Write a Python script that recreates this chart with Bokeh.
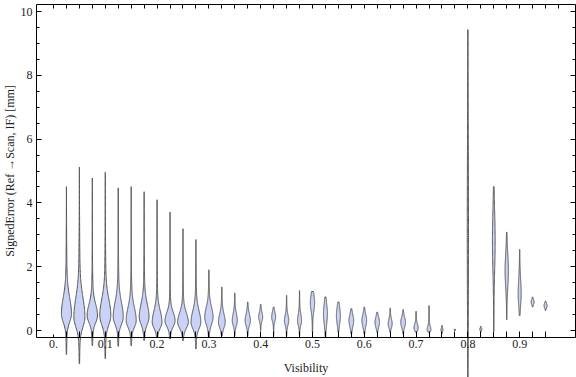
import numpy as np
from bokeh.plotting import figure
from bokeh.models import LinearAxis, FixedTicker, Label, Range1d
from bokeh.embed import file_html
from bokeh.resources import INLINE

# ---- data ----
visibility = [0.025 * k for k in range(1, 39)]
err_max = [4.51, 5.12, 4.78, 4.96, 4.47, 4.51, 4.35, 4.10, 3.71, 3.19,
           2.85, 1.90, 1.36, 1.17, 0.89, 0.82, 0.73, 1.10, 1.25, 1.22,
           1.05, 0.89, 0.68, 0.73, 0.57, 0.70, 0.65, 0.60, 0.78, 0.16,
           0.04, 9.43, 0.13, 4.51, 3.08, 2.54, 1.05, 0.92]
err_min = [-0.75, -1.04, -0.47, -0.88, -0.49, -0.47, -0.31, -0.20, -0.26, -0.31,
           -0.57, -0.20, -0.16, -0.16, -0.16, 0.00, -0.16, -0.16, -0.16, -0.05,
           -0.20, -0.05, -0.10, -0.10, -0.05, -0.05, -0.10, -0.05, -0.05, -0.10,
           0.00, -1.60, -0.05, -0.02, 0.34, 0.47, 0.74, 0.63]
err_mode = [0.52, 0.42, 0.47, 0.47, 0.42, 0.31, 0.42, 0.26, 0.31, 0.26,
            0.26, 0.42, 0.26, 0.31, 0.31, 0.42, 0.42, 0.31, 0.31, 0.87,
            0.52, 0.47, 0.31, 0.31, 0.26, 0.21, 0.26, 0.08, 0.02, 0.02,
            0.02, 3.00, 0.04, 2.80, 1.88, 1.15, 0.89, 0.78]
density_peak = [1.00, 1.10, 1.03, 1.10, 1.00, 1.00, 0.97, 0.97, 1.00, 1.07,
                0.97, 0.83, 0.67, 0.50, 0.53, 0.40, 0.40, 0.43, 0.40, 0.43,
                0.40, 0.40, 0.47, 0.47, 0.45, 0.40, 0.47, 0.43, 0.37, 0.20,
                0.15, 0.12, 0.20, 0.27, 0.33, 0.30, 0.30, 0.30]
spread_hi = [0.50, 0.60, 0.35, 0.50, 0.45, 0.40, 0.40, 0.35, 0.25, 0.28,
             0.35, 0.30, 0.25, 0.22, 0.20, 0.15, 0.15, 0.18, 0.20, 0.25,
             0.30, 0.25, 0.18, 0.18, 0.15, 0.15, 0.15, 0.12, 0.12, 0.06,
             0.015, 3.00, 0.04, 0.90, 0.50, 0.45, 0.07, 0.07]
spread_lo = [0.25, 0.30, 0.22, 0.28, 0.22, 0.20, 0.22, 0.18, 0.18, 0.18,
             0.20, 0.22, 0.17, 0.15, 0.15, 0.12, 0.12, 0.14, 0.14, 0.25,
             0.30, 0.25, 0.18, 0.18, 0.15, 0.12, 0.15, 0.08, 0.06, 0.05,
             0.015, 2.50, 0.04, 0.90, 0.50, 0.35, 0.07, 0.07]

x_tick_values = [0.0, 0.1, 0.2, 0.3, 0.4, 0.5, 0.6, 0.7, 0.8, 0.9]
x_tick_labels = ["0.", "0.1", "0.2", "0.3", "0.4", "0.5", "0.6", "0.7", "0.8", "0.9"]
y_tick_values = [0, 2, 4, 6, 8, 10]
x_label = "Visibility"
y_label = "SignedError (Ref \u2192Scan, IF) [mm]"

# ---- figure ----
p = figure(width=576, height=377, output_backend="svg", toolbar_location=None,
           x_axis_location=None, y_axis_location=None, min_border=0,
           x_range=Range1d(-0.1023, 1.0097), y_range=Range1d(-1.473, 10.345))
p.xgrid.visible = False
p.ygrid.visible = False
p.outline_line_color = None
p.background_fill_color = "white"
p.border_fill_color = "white"

half_scale = 0.0097  # half-width of a violin of density_peak 1, in x units
xs_list, ys_list = [], []
for x, hi, lo, m, d, sh, sl in zip(visibility, err_max, err_min, err_mode,
                                   density_peak, spread_hi, spread_lo):
    ys = np.linspace(lo, hi, 160)
    s = np.where(ys >= m, sh, sl)
    z = (ys - m) / s
    hw = d * half_scale * (0.85 * np.exp(-0.5 * z ** 2) + 0.15 * np.exp(-z ** 2 / 18.0))
    xs_list.append(list(x + hw) + list(x - hw[::-1]))
    ys_list.append(list(ys) + list(ys[::-1]))

p.patches(xs_list, ys_list, fill_color="#CBD2F7", line_color="#555555", line_width=1)

# frame geometry (data units)
fx0, fx1 = -0.0328, 1.0077
fy0, fy1 = -0.219, 10.22
font = "Liberation Serif"

minor_x = [0.025 * k for k in range(0, 40)]

bottom = LinearAxis(fixed_location=fy0, bounds=(fx0, fx1),
                    ticker=FixedTicker(ticks=x_tick_values, minor_ticks=[0.025 * k for k in range(1, 39)]),
                    major_label_overrides={v: l for v, l in zip(x_tick_values, x_tick_labels)},
                    major_tick_in=3, major_tick_out=0, minor_tick_in=6, minor_tick_out=0,
                    major_label_standoff=3, major_label_text_font=font,
                    major_label_text_font_size="12px", major_label_text_color="#222222",
                    axis_line_color="black", major_tick_line_color="black", minor_tick_line_color="black")
p.add_layout(bottom, "below")

top = LinearAxis(fixed_location=fy1, bounds=(fx0, fx1),
                 ticker=FixedTicker(ticks=minor_x, minor_ticks=[]),
                 major_tick_in=4, major_tick_out=0, major_label_text_alpha=0,
                 major_label_text_font_size="1px",
                 axis_line_color="black", major_tick_line_color="black")
p.add_layout(top, "above")

left = LinearAxis(fixed_location=fx0, bounds=(fy0, fy1),
                  ticker=FixedTicker(ticks=y_tick_values, minor_ticks=[0.5 * k for k in range(0, 21)]),
                  major_tick_in=5, major_tick_out=0, minor_tick_in=3, minor_tick_out=0,
                  major_label_standoff=4, major_label_text_font=font,
                  major_label_text_font_size="12px", major_label_text_color="#222222",
                  axis_line_color="black", major_tick_line_color="black", minor_tick_line_color="black")
p.add_layout(left, "left")

right = LinearAxis(fixed_location=fx1, bounds=(fy0, fy1),
                   ticker=FixedTicker(ticks=y_tick_values, minor_ticks=[0.5 * k for k in range(0, 21)]),
                   major_tick_in=5, major_tick_out=0, minor_tick_in=3, minor_tick_out=0,
                   major_label_text_alpha=0, major_label_text_font_size="1px",
                   axis_line_color="black", major_tick_line_color="black", minor_tick_line_color="black")
p.add_layout(right, "right")

p.add_layout(Label(x=(fx0 + fx1) / 2, y=-1.16, text=x_label, text_font=font,
                   text_font_size="12px", text_align="center", text_baseline="middle",
                   text_color="#222222"))
p.add_layout(Label(x=-0.083, y=(fy0 + fy1) / 2, text=y_label, text_font=font,
                   text_font_size="12px", text_align="center", text_baseline="middle",
                   angle=np.pi / 2, text_color="#222222"))

open("out.html", "w").write(file_html(p, INLINE))
